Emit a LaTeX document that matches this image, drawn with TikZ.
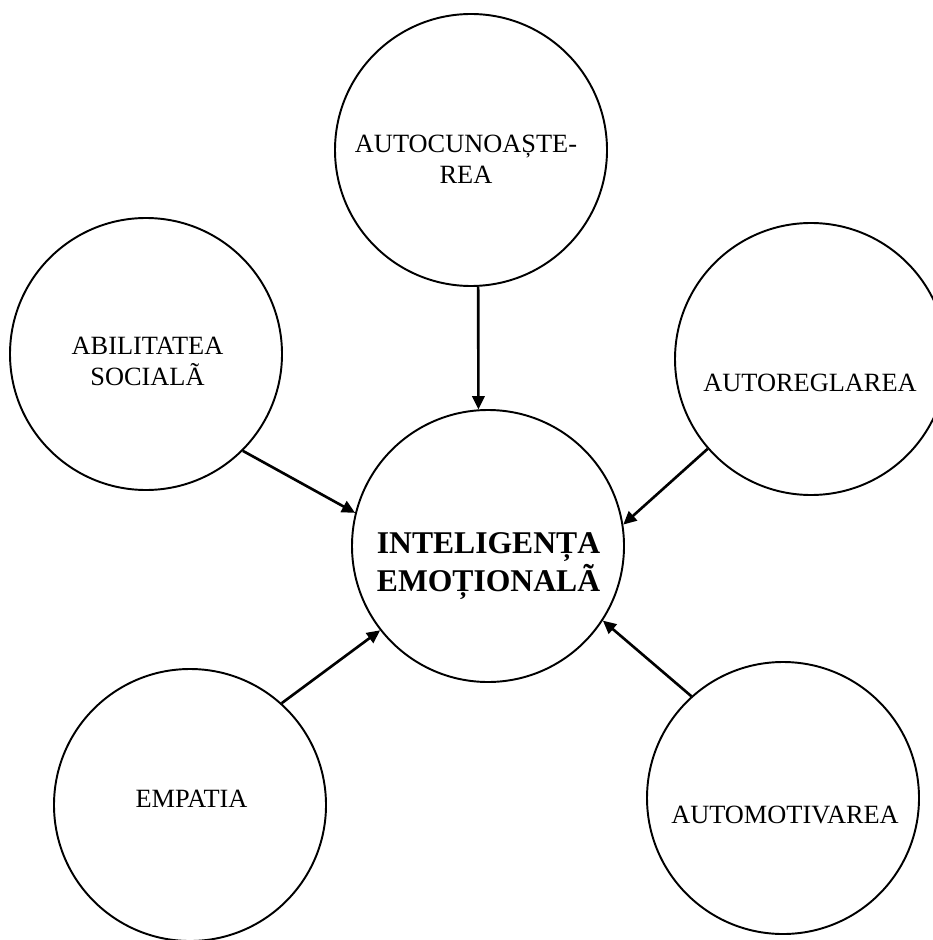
\documentclass[tikz,border=0pt]{standalone}
\usepackage{fontspec}
\setmainfont{Liberation Serif}
\usetikzlibrary{arrows.meta}
\tikzset{
  cerc/.style={draw,circle,line width=1.1pt,minimum size=5.44cm,inner sep=0pt},
  eticheta/.style={align=center,inner sep=0pt,font=\fontsize{15}{17.6}\selectfont},
  titlu/.style={align=center,inner sep=0pt,font=\fontsize{18}{21.6}\selectfont\bfseries},
  sageata/.style={line width=1.5pt,-{Triangle[length=7.5pt,width=7pt]}}
}
\begin{document}
\begin{tikzpicture}
         \useasboundingbox (0,0) rectangle (18.66,-18.8) ;
         % cercurile
         \node[cerc] (ie) at (9.76,-10.92) {} ;
         \node[cerc] (cunoast) at (9.42,-3.00) {} ;
         \node[cerc] (social) at (2.92,-7.08) {} ;
         \node[cerc] (regl) at (16.22,-7.18) {} ;
         \node[cerc] (empat) at (3.80,-16.10) {} ;
         \node[cerc] (motiv) at (15.66,-15.96) {} ;
         % textele
         \node[titlu] (tie) at (9.77,-11.33) {INTELIGENȚA\\EMOȚIONALÃ} ;
         \node[eticheta] (tcunoast) at (9.32,-3.18) {AUTOCUNOAȘTE-\\REA} ;
         \node[eticheta] (tsocial) at (2.95,-7.23) {ABILITATEA\\SOCIALÃ} ;
         \node[eticheta] (tregl) at (16.20,-7.66) {AUTOREGLAREA} ;
         \node[eticheta] (tempat) at (3.83,-15.98) {EMPATIA} ;
         \node[eticheta] (tmotiv) at (15.70,-16.30) {AUTOMOTIVAREA} ;
         % sagetile
         \draw[sageata] (cunoast.-87) -- (ie.94) ;
         \draw[sageata] (social.-45.6) -- (ie.166.4) ;
         \draw[sageata] (regl.-139.9) -- (ie.9) ;
         \draw[sageata] (empat.48.9) -- (ie.-142.1) ;
         \draw[sageata] (motiv.132) -- (ie.-33.6) ;
\end{tikzpicture}
\end{document}
